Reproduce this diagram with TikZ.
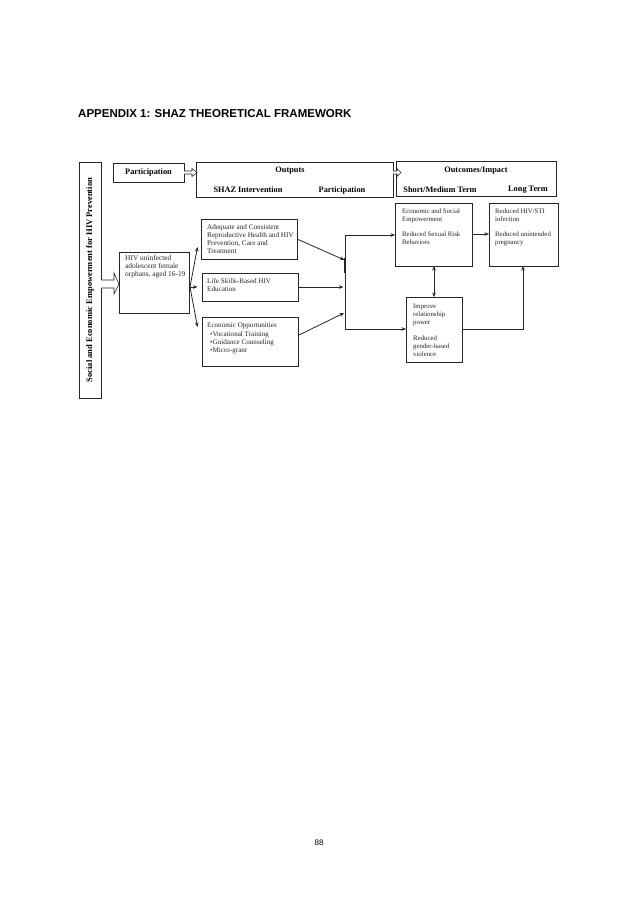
\documentclass[tikz,border=0pt]{standalone}
\usepackage{fontspec}
\setmainfont{Liberation Serif}
\newfontfamily\sansf{Liberation Sans}
\usetikzlibrary{arrows.meta,calc}
\begin{document}
\begin{tikzpicture}[x=1pt,y=-1pt,
 box/.style={draw=black!85,line width=0.9pt,anchor=north west,inner sep=0pt,outer sep=0pt},
 txt/.style={anchor=north west,inner sep=0pt,align=left,font=\fontsize{6.8}{8}\selectfont,text=black!85},
 hdr/.style={inner sep=0pt,font=\bfseries\fontsize{8.3}{10}\selectfont},
 arr/.style={draw=black!85,line width=0.8pt,-{Stealth[length=4.5pt,width=3.6pt]}},
 dbl/.style={draw=black!85,line width=0.8pt,{Stealth[length=4.5pt,width=3.6pt]}-{Stealth[length=4.5pt,width=3.6pt]}},
 ln/.style={draw=black!85,line width=0.8pt},
 hollow/.style={draw=black!85,line width=0.6pt,fill=white}]
\useasboundingbox[fill=white] (0,0) rectangle (638,903);

% title and page number
\node[anchor=base west,inner sep=0pt,font=\sansf\bfseries\fontsize{11.5}{13}\selectfont] (title) at (78,117.5) {APPENDIX 1: SHAZ THEORETICAL FRAMEWORK};
\node[inner sep=0pt,font=\sansf\fontsize{8}{10}\selectfont] (page) at (319,843) {88};

% boxes
\node[box,minimum width=22pt,minimum height=236pt] (left) at (79,162) {};
\node[rotate=90,inner sep=0pt,font=\bfseries\fontsize{8.5}{10}\selectfont] (lefttxt) at (left.center) {Social and Economic Empowerment for HIV Prevention};

\node[box,minimum width=71pt,minimum height=19pt] (part) at (113,163) {};
\node[hdr] (parttxt) at (part.center) {Participation};

\node[box,minimum width=197pt,minimum height=35pt] (outputs) at (196,162) {};
\node[hdr] (outtxt) at (290,171) {Outputs};
\node[hdr] (shaztxt) at (248,190) {SHAZ Intervention};
\node[hdr] (part2txt) at (342,190) {Participation};

\node[box,minimum width=160pt,minimum height=35pt] (outcomes) at (396,161.5) {};
\node[hdr] (octxt) at (476,171) {Outcomes/Impact};
\node[hdr] (smtxt) at (440,190) {Short/Medium Term};
\node[hdr] (lttxt) at (528,190) {Long Term};

\node[box,minimum width=70pt,minimum height=61pt] (hiv) at (119,252) {};
\node[txt,font=\fontsize{7.4}{8.2}\selectfont] (hivtxt) at (125,255) {HIV uninfected\\adolescent female\\orphans, aged 16-19};

\node[box,minimum width=96pt,minimum height=40pt] (adeq) at (201,219) {};
\node[txt,font=\fontsize{7.2}{8}\selectfont] (adeqtxt) at (207,224) {Adequate and Consistent\\Reproductive Health and HIV\\Prevention, Care and\\Treatment};

\node[box,minimum width=96pt,minimum height=28pt] (life) at (202,273) {};
\node[txt,font=\fontsize{7.1}{8}\selectfont] (lifetxt) at (207,278) {Life Skills-Based HIV\\Education};

\node[box,minimum width=96pt,minimum height=49pt] (econ) at (202,317) {};
\node[txt,font=\fontsize{7.1}{8.3}\selectfont] (econtxt) at (207,323) {Economic Opportunities\\\hspace*{3pt}\textbullet Vocational Training\\\hspace*{3pt}\textbullet Guidance Counseling\\\hspace*{3pt}\textbullet Micro-grant};

\node[box,minimum width=77pt,minimum height=63pt] (emp) at (395,203) {};
\node[txt] (emptxt) at (402,208.5) {Economic and Social\\Empowerment\\[7pt]Reduced Sexual Risk\\Behaviors};

\node[box,minimum width=69pt,minimum height=63pt] (red) at (489,203) {};
\node[txt] (redtxt) at (495,208.5) {Reduced HIV/STI\\infection\\[7pt]Reduced unintended\\pregnancy};

\node[box,minimum width=56pt,minimum height=65pt] (imp) at (406,297) {};
\node[txt] (imptxt) at (413,303.5) {Improve\\relationship\\power\\[8pt]Reduced\\gender-based\\violence};

% hollow arrows
\draw[hollow] (part.east |- 0,171) -- (192,171) -- (192,168.5) -- (197,172.5) -- (192,176.5) -- (192,174) -- (part.east |- 0,174);
\draw[hollow] (outputs.east |- 0,171) -- (397,171) -- (397,168.5) -- (401,172.5) -- (397,176.5) -- (397,174) -- (outputs.east |- 0,174);
\draw[hollow] (left.east |- 0,280) -- (114,280) -- (114,273) -- (hiv.west |- 0,284) -- (114,294) -- (114,288) -- (left.east |- 0,288);

% fan
\coordinate (fan) at (190,287);
\coordinate (fa) at (197.5,247);
\coordinate (fb) at (197.5,287);
\coordinate (fc) at (197.5,327);
\draw[arr] (fan) -- (fa);
\draw[arr] (fan) -- (fb);
\draw[arr] (fan) -- (fc);

% collector
\coordinate (ctop) at (345,235);
\coordinate (cbot) at (345,329);
\coordinate (c1) at (344.5,260);
\coordinate (c2) at (343.5,287);
\coordinate (c3) at (344,313);
\draw[arr] (adeq.east) -- (c1);
\draw[arr] (life.east) -- (c2);
\draw[arr] ($(econ.east)+(0,-6)$) -- (c3);
\draw[ln] (ctop) -- (cbot);
\draw[line width=1.6pt,black!85] (345,258) -- (345,273);
\draw[arr] (ctop) -- (emp.west |- ctop);
\draw[arr] (cbot) -- (imp.west |- cbot);

% outcomes links
\draw[arr] (emp.east |- 0,234) -- (red.west |- 0,234);
\draw[dbl] (emp.south -| 434,0) -- (imp.north -| 434,0);
\draw[arr] (imp.east |- cbot) -| (red.south -| 523,0);
\end{tikzpicture}
\end{document}
